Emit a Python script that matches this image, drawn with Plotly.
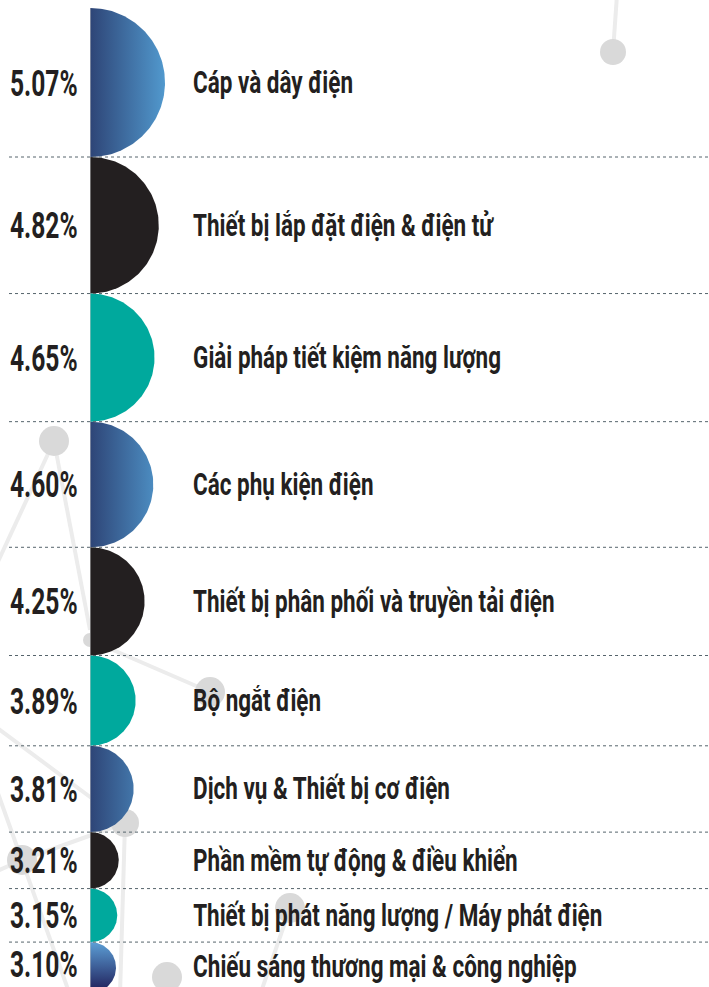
import numpy as np
import plotly.graph_objects as go

# ---------------- data ----------------
categories = [
    "Cáp và dây điện",
    "Thiết bị lắp đặt điện & điện tử",
    "Giải pháp tiết kiệm năng lượng",
    "Các phụ kiện điện",
    "Thiết bị phân phối và truyền tải điện",
    "Bộ ngắt điện",
    "Dịch vụ & Thiết bị cơ điện",
    "Phần mềm tự động & điều khiển",
    "Thiết bị phát năng lượng / Máy phát điện",
    "Chiếu sáng thương mại & công nghiệp",
]
values = [5.07, 4.82, 4.65, 4.60, 4.25, 3.89, 3.81, 3.21, 3.15, 3.10]
value_labels = ["5.07%", "4.82%", "4.65%", "4.60%", "4.25%",
                "3.89%", "3.81%", "3.21%", "3.15%", "3.10%"]
color_kinds = ["blue", "black", "teal", "blue", "black",
               "teal", "blue", "black", "teal", "blue_v"]

# ---------------- layout constants ----------------
W, H = 709, 987
X0 = 90.5          # flat edge of the half circles
TOP = 8            # top of first half circle
TEXT = "#231f20"
FONT = "Roboto, Liberation Sans, Arial, sans-serif"

# linear radius scale (value -> pixel radius)
def rscale(v, d0=3.10, d1=5.07, r0=25.5, r1=74.5):
    return r0 + (v - d0) / (d1 - d0) * (r1 - r0)

radii = [rscale(v) for v in values]
centers = []
y = TOP
for r in radii:
    centers.append(y + r)
    y += 2 * r
bounds = [c + r for c, r in zip(centers, radii)][:-1]

fig = go.Figure()

# ---------------- background network (decoration) ----------------
LINE_C = "#ececec"
CIRC_C = "#d9d9d9"
bg_lines = [
    ((617, -5), (613, 52)),
    ((54, 441), (-5, 568)),
    ((54, 441), (90, 630)),
    ((90, 640), (210, 692)),
    ((-20, 715), (125, 823)),
    ((125, 823), (120, 995)),
    ((22, 860), (125, 823)),
    ((-5, 785), (70, 995)),
    ((22, 860), (-5, 872)),
    ((290, 908), (260, 995)),
]
bg_circles = [((613, 52), 13), ((54, 441), 15), ((90, 640), 7), ((210, 692), 15),
              ((125, 823), 14), ((22, 860), 15), ((290, 908), 15), ((167, 977), 15)]
shapes = []
for (a, b) in bg_lines:
    shapes.append(dict(type="line", xref="x", yref="y", x0=a[0], y0=a[1], x1=b[0], y1=b[1],
                       line=dict(color=LINE_C, width=4), layer="below"))
for (c, r) in bg_circles:
    shapes.append(dict(type="circle", xref="x", yref="y", x0=c[0] - r, x1=c[0] + r,
                       y0=c[1] - r, y1=c[1] + r, fillcolor=CIRC_C,
                       line=dict(width=0), layer="below"))

# thin vertical axis line
shapes.append(dict(type="line", xref="x", yref="y", x0=X0, x1=X0, y0=TOP, y1=H + 5,
                   line=dict(color="#c4c4c4", width=1), layer="below"))

# ---------------- half circles ----------------
theta = np.linspace(-np.pi / 2, np.pi / 2, 120)
rmax = max(radii)
for v, r, cy, kind, cat in zip(values, radii, centers, color_kinds, categories):
    xs = np.concatenate([[X0], X0 + r * np.cos(theta), [X0]])
    ys = np.concatenate([[cy - r], cy + r * np.sin(theta), [cy - r]])
    kw = dict(x=xs, y=ys, mode="lines", fill="toself", line=dict(width=0),
              hoverinfo="text", text=f"{cat}: {v}%", showlegend=False)
    if kind == "black":
        kw["fillcolor"] = "#231f20"
    elif kind == "teal":
        kw["fillcolor"] = "#00a99d"
    elif kind == "blue":
        kw["fillgradient"] = dict(type="horizontal",
                                  colorscale=[[0, "#2e4577"], [1, "#539dd2"]],
                                  start=X0, stop=X0 + rmax * 1.05)
    else:
        kw["fillgradient"] = dict(type="vertical",
                                  colorscale=[[0, "#5c9fd6"], [1, "#1d1a55"]],
                                  start=cy - r, stop=cy + r)
    fig.add_trace(go.Scatter(**kw))

# ---------------- separators ----------------
for b in bounds:
    shapes.append(dict(type="line", xref="x", yref="y", x0=9, x1=W, y0=b, y1=b,
                       line=dict(color="#56646c", width=1, dash="3px,3px"), layer="above"))

# ---------------- texts ----------------
ann = []
for lab, cy in zip(value_labels, centers):
    ann.append(dict(x=8, y=min(cy + 0.5, H - 23), xref="x", yref="y", text=lab,
                    showarrow=False, xanchor="left", yanchor="middle",
                    font=dict(family=FONT, size=37, color=TEXT, weight=700)))
for cat, cy in zip(categories, centers):
    ann.append(dict(x=191, y=min(cy, H - 21), xref="x", yref="y", text=cat,
                    showarrow=False, xanchor="left", yanchor="middle",
                    font=dict(family=FONT, size=31, color=TEXT, weight=700)))

fig.update_layout(
    width=W, height=H, autosize=False,
    margin=dict(l=0, r=0, t=0, b=0),
    paper_bgcolor="white", plot_bgcolor="white",
    xaxis=dict(range=[0, W], visible=False, fixedrange=True),
    yaxis=dict(range=[H, 0], visible=False, fixedrange=True),
    shapes=shapes, annotations=ann, showlegend=False,
)

css = ".annotation-text{transform-box:fill-box;transform-origin:0% 50%;transform:scaleX(0.725);}"
for i in range(len(value_labels)):
    css += '.annotation[data-index="%d"] .annotation-text{transform:scaleX(0.665);}' % i

post = """
document.body.style.margin='0';
var st=document.createElement('style');
st.textContent='%s';
document.head.appendChild(st);
""" % css

fig.write_html("out.html", post_script=post, config={"displayModeBar": False})
